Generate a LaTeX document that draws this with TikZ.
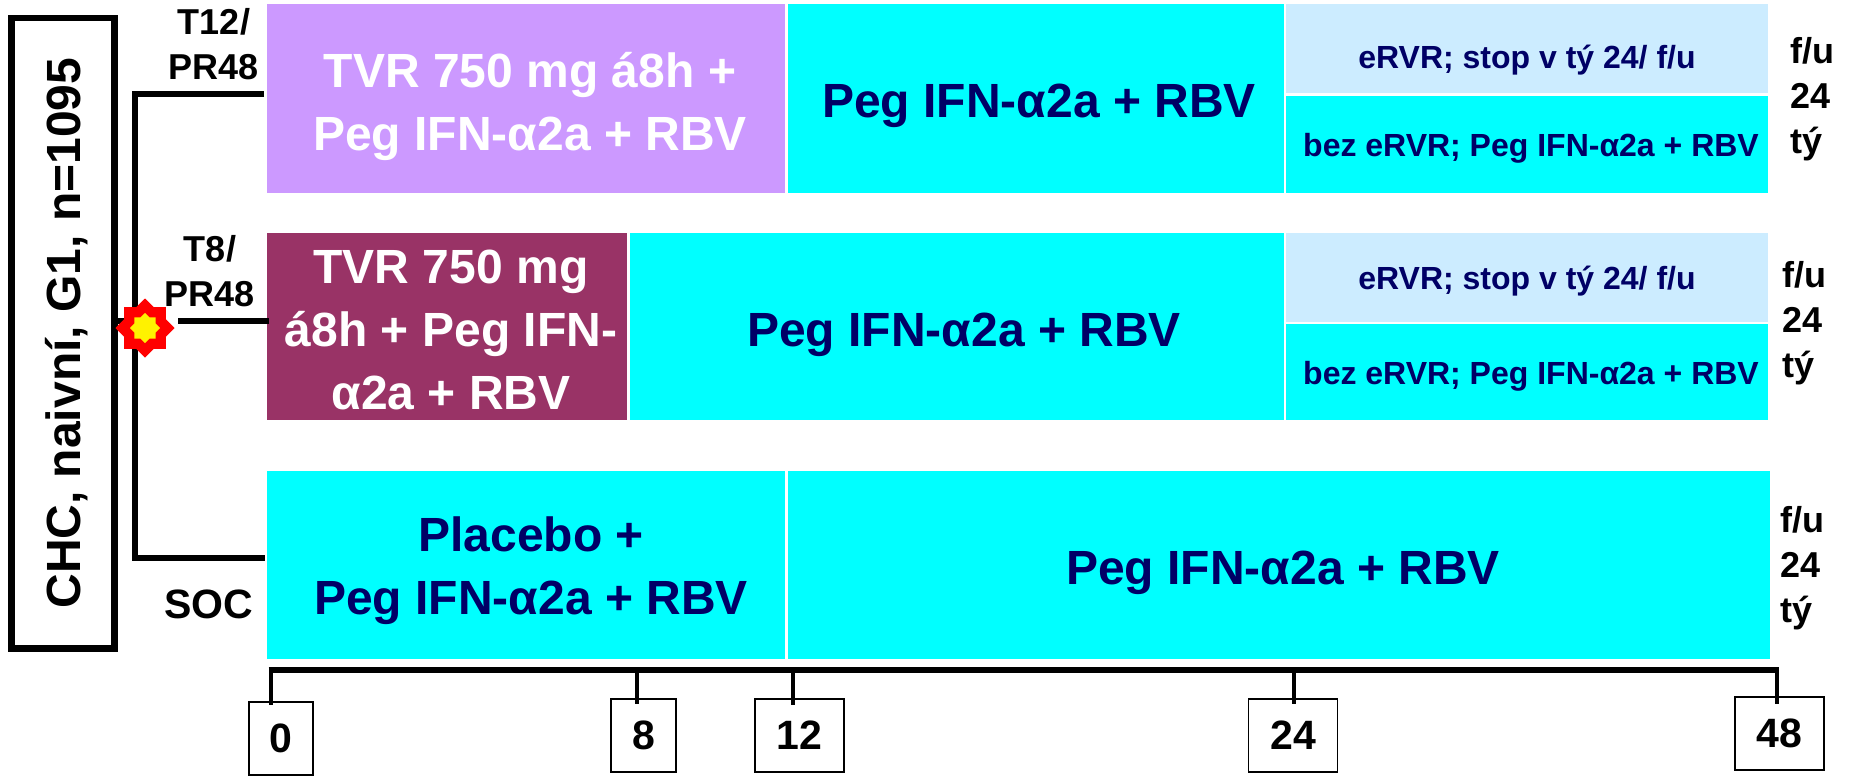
\documentclass[tikz,border=0pt]{standalone}
\usepackage{fontspec}
\setmainfont{Liberation Sans}[BoldFont={Liberation Sans Bold}]
\usetikzlibrary{shapes.geometric}
\definecolor{lilac}{HTML}{CC99FF}
\definecolor{maroon}{HTML}{993366}
\definecolor{aqua}{HTML}{00FFFF}
\definecolor{pale}{HTML}{CCECFF}
\definecolor{navyt}{HTML}{000066}
\tikzset{
  x=1pt,y=-1pt,
  blk/.style={anchor=north west,inner sep=0pt,outer sep=0pt,draw=none},
  big/.style={font=\bfseries\fontsize{48}{63}\selectfont,align=center,inner sep=0pt},
  small/.style={font=\bfseries\fontsize{32}{36}\selectfont,inner sep=0pt,text=navyt},
  armlab/.style={font=\bfseries\fontsize{36}{45}\selectfont,align=center,inner sep=0pt},
  fu/.style={font=\bfseries\fontsize{36}{45}\selectfont,align=left,anchor=west,inner sep=0pt},
  conn/.style={line width=6pt,line cap=butt,line join=miter},
  tickline/.style={line width=4.5pt},
  wk/.style={draw,line width=1.6pt,inner sep=0pt,font=\bfseries\fontsize{41}{45}\selectfont},
}
\begin{document}
\begin{tikzpicture}
\useasboundingbox (0,0) rectangle (1851,779);
\fill[white] (0,0) rectangle (1851,779);
% cohort box
\node[draw,line width=6.5pt,inner sep=0pt,rotate=90,minimum width=630.5pt,minimum height=103pt] (cohort) at (63,333.2) {};
\node[rotate=90,inner sep=0pt,font=\bfseries\fontsize{48}{55}\selectfont] (cohortt) at (67,333.2) {CHC, naivní, G1, n=1095};
% row 1
\node[blk,fill=lilac,minimum width=518pt,minimum height=189pt] (a1) at (267,4) {};
\node[blk,fill=aqua,minimum width=496pt,minimum height=189pt] (a2) at (788,4) {};
\node[blk,fill=pale,minimum width=482pt,minimum height=89pt] (a3) at (1286,4) {};
\node[blk,fill=aqua,minimum width=482pt,minimum height=97pt] (a4) at (1286,96) {};
% row 2
\node[blk,fill=maroon,minimum width=360pt,minimum height=187pt] (b1) at (267,233) {};
\node[blk,fill=aqua,minimum width=654pt,minimum height=187pt] (b2) at (630,233) {};
\node[blk,fill=pale,minimum width=482pt,minimum height=89pt] (b3) at (1286,233) {};
\node[blk,fill=aqua,minimum width=482pt,minimum height=96pt] (b4) at (1286,324) {};
% row 3
\node[blk,fill=aqua,minimum width=518pt,minimum height=188pt] (c1) at (267,471) {};
\node[blk,fill=aqua,minimum width=982.5pt,minimum height=188pt] (c2) at (787.5,471) {};
% block texts
\node[big,text=white] (a1t) at (530,106.5) {TVR 750 mg á8h +\\Peg IFN-α2a + RBV};
\node[big,text=navyt] (a2t) at (1039,106) {Peg IFN-α2a + RBV};
\node[small] (a3t) at (1527,60) {eRVR; stop v tý 24/ f/u};
\node[small] (a4t) at (1531,148) {bez eRVR; Peg IFN-α2a + RBV};
\node[big,text=white] (b1t) at (451,330) {TVR 750 mg\\á8h + Peg IFN-\\α2a + RBV};
\node[big,text=navyt] (b2t) at (964,334.5) {Peg IFN-α2a + RBV};
\node[small] (b3t) at (1527,281) {eRVR; stop v tý 24/ f/u};
\node[small] (b4t) at (1531,376) {bez eRVR; Peg IFN-α2a + RBV};
\node[big,text=navyt] (c1t) at (531,571) {Placebo +\\Peg IFN-α2a + RBV};
\node[big,text=navyt] (c2t) at (1283,572.5) {Peg IFN-α2a + RBV};
% arm labels
\node[armlab] (l1) at (214,44) {T12/\\PR48};
\node[armlab] (l2) at (210,271) {T8/\\PR48};
\node[armlab,font=\bfseries\fontsize{41}{45}\selectfont] (l3) at (209,604) {SOC};
% follow-up labels
\node[fu] (f1) at (1790,99) {f/u\\24\\tý};
\node[fu] (f2) at (1782,323) {f/u\\24\\tý};
\node[fu] (f3) at (1780,568.5) {f/u\\24\\tý};
% connectors
\coordinate (topj) at (135,94);
\coordinate (topend) at (264,94);
\coordinate (botj) at (135,558);
\coordinate (botend) at (265,558);
\coordinate (midl) at (118,321);
\coordinate (midr) at (178,321);
\coordinate (midend) at (269,321);
\draw[conn] (topend) -- (topj) -- (botj) -- (botend);
\draw[conn] (midl) -- (146,321);
\draw[conn] (midr) -- (midend);
% burst
\node[shape=star,star points=8,star point ratio=1.3,minimum size=59pt,inner sep=0pt,fill=red,draw=none] (burst) at (145,328) {};
\node[shape=star,star points=8,star point ratio=1.3,minimum size=30pt,inner sep=0pt,fill=yellow,draw=none] (burstc) at (145,328) {};
% timeline
\node[wk,minimum width=64pt,minimum height=73pt] (w0) at (281,738.5) {0};
\node[wk,minimum width=65pt,minimum height=73pt] (w8) at (643.5,735.5) {8};
\node[wk,minimum width=89pt,minimum height=73pt] (w12) at (799.5,735.5) {12};
\node[wk,minimum width=89pt,minimum height=73pt] (w24) at (1293,735.5) {24};
\node[wk,minimum width=89pt,minimum height=73pt] (w48) at (1779.5,733.5) {48};
\coordinate (ax0) at (271,669.5);
\coordinate (ax8) at (637,669.5);
\coordinate (ax12) at (793,669.5);
\coordinate (ax24) at (1294,669.5);
\coordinate (ax48) at (1777,669.5);
\coordinate (e0) at (271,705);
\coordinate (e8) at (637,704);
\coordinate (e12) at (793,705);
\coordinate (e24) at (1294,704);
\coordinate (e48) at (1777,704);
\draw[conn] (ax0) ++(-2.5,0) -- ([xshift=2.2pt]ax48);
\foreach \t in {0,8,12,24,48} \draw[tickline] (ax\t) -- (e\t);
\end{tikzpicture}
\end{document}
